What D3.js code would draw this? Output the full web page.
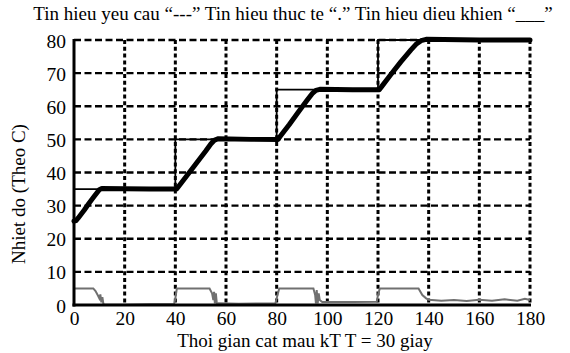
<!DOCTYPE html>
<html><head><meta charset="utf-8">
<script src="https://cdn.jsdelivr.net/npm/d3@7"></script>
<style>
html,body{margin:0;padding:0;background:#fff;}
svg{display:block;}
</style></head>
<body>
<script>
const FONT = "Liberation Serif";
const titleText = "Tin hieu yeu cau \u201c---\u201d Tin hieu thuc te \u201c.\u201d Tin hieu dieu khien \u201c___\u201d";
const xLabel = "Thoi gian cat mau kT T = 30 giay";
const yLabel = "Nhiet do (Theo C)";
const timeTicks = [0,20,40,60,80,100,120,140,160,180];
const tempTicks = [0,10,20,30,40,50,60,70,80];

// Setpoint (Tin hieu yeu cau)
const setpointTime  = [0,40,80,120,180];
const setpointValue = [35,50,65,80,80];

// Actual temperature (Tin hieu thuc te)
const actualTime  = [0,0.8,1.6,4,6,8,10,11,20,30,40.5,41.5,44,48,52,54,55.5,57,70,80.5,81.5,85,89,92,94,95.5,97,110,120.5,121.5,125,129,133,135,137,139,160,180];
const actualValue = [25.3,25.5,26.2,28.6,30.8,32.8,34.8,35.2,35.1,35,35,36,38.5,42.5,46.5,48.6,49.8,50.2,50,50,51,54.5,58.7,61.8,63.8,64.8,65.1,65,65,66,69.5,73.4,77,78.7,79.8,80.2,80,80];

// Control signal (Tin hieu dieu khien)
const controlTime  = [0,7.6,8.5,9.5,10,10.4,10.8,11.2,11.6,12,20,30,39.5,40,40.6,53.5,54.5,55,55.3,55.6,56,56.4,57,65,79.5,80,81,94.5,95.2,95.5,95.8,96.2,96.6,97,98,110,119.5,120,120.7,136,137.5,139,140,145,150,155,160,165,170,175,178,180];
const controlValue = [5,5,4.2,2.8,2,3.2,0.8,2.4,0.3,0.1,0.1,0.2,0.2,2,5,5,3.5,1.5,4,0.5,3.5,0.3,0.5,0.4,0.5,2,5,5,3,0.5,4.5,0.5,3.5,1.5,0.9,0.9,1,3,5,5,3,2,1.6,1.3,1.5,1.2,1.6,1.3,1.7,1.3,1.9,1.5];

const W = 570, H = 353;
const svg = d3.select("body").append("svg").attr("width", W).attr("height", H)
  .attr("font-family", FONT);

const x = d3.scaleLinear().domain([0,180]).range([74,530]);
const y = d3.scaleLinear().domain([0,80]).range([305,40]);

// Title (fit to reference width)
const t = svg.append("text").attr("x", 293).attr("y", 20).attr("text-anchor","middle")
  .attr("font-family", FONT).attr("font-size", 18).attr("fill","#000").text(titleText);
const tl = t.node().getComputedTextLength();
if (tl > 0) t.attr("font-size", 18 * 520 / tl);

// Horizontal gridlines (dashed)
svg.append("g").selectAll("line").data(tempTicks.filter(d => d > 0)).join("line")
  .attr("x1", x(0)).attr("x2", x(180))
  .attr("y1", d => y(d)).attr("y2", d => y(d))
  .attr("stroke","#000").attr("stroke-width",2.3).attr("stroke-dasharray","7,3.5");

// Vertical gridlines (dotted)
svg.append("g").selectAll("line").data(timeTicks.filter(d => d > 0)).join("line")
  .attr("x1", d => x(d)).attr("x2", d => x(d))
  .attr("y1", y(80)).attr("y2", y(0))
  .attr("stroke","#000").attr("stroke-width",3).attr("stroke-dasharray","4,2.8");

// Setpoint
const spData = setpointTime.map((d,i) => [d, setpointValue[i]]);
svg.append("path").datum(spData)
  .attr("d", d3.line().x(d => x(d[0])).y(d => y(d[1])).curve(d3.curveStepAfter))
  .attr("fill","none").attr("stroke","#000").attr("stroke-width",1.8);

// Control signal
const ctData = controlTime.map((d,i) => [d, controlValue[i]]);
svg.append("path").datum(ctData)
  .attr("d", d3.line().x(d => x(d[0])).y(d => y(d[1])))
  .attr("fill","none").attr("stroke","#707070").attr("stroke-width",2);

// Actual temperature
const acData = actualTime.map((d,i) => [d, actualValue[i]]);
svg.append("path").datum(acData)
  .attr("d", d3.line().x(d => x(d[0])).y(d => y(d[1])))
  .attr("fill","none").attr("stroke","#000").attr("stroke-width",5)
  .attr("stroke-linejoin","round").attr("stroke-linecap","round");

// Axes
const xAxis = d3.axisBottom(x).tickValues(timeTicks).tickSize(0).tickPadding(6).tickFormat(d3.format("d"));
const gx = svg.append("g").attr("transform", `translate(0,${y(0)})`).call(xAxis)
  .attr("font-family", FONT).attr("font-size", 19.5);
gx.select(".domain").attr("stroke","#000").attr("stroke-width",3).attr("d", `M${x(0)-1.5},0H${x(180)+1}`);
gx.selectAll("text").attr("fill","#000");

const yAxis = d3.axisLeft(y).tickValues(tempTicks).tickSize(0).tickPadding(8).tickFormat(d3.format("d"));
const gy = svg.append("g").attr("transform", `translate(${x(0)},0)`).call(yAxis)
  .attr("font-family", FONT).attr("font-size", 19.5);
gy.select(".domain").attr("stroke","#000").attr("stroke-width",3).attr("d", `M0,${y(80)-1}V${y(0)+1.5}`);
gy.selectAll("text").attr("fill","#000").attr("dy","0.36em");

// Axis labels
svg.append("text").attr("x", 305).attr("y", 347).attr("text-anchor","middle")
  .attr("font-family", FONT).attr("font-size", 19).attr("fill","#000").text(xLabel);
svg.append("text").attr("transform","translate(25,194) rotate(-90)").attr("text-anchor","middle")
  .attr("font-family", FONT).attr("font-size", 19).attr("fill","#000").text(yLabel);
</script>
</body></html>
